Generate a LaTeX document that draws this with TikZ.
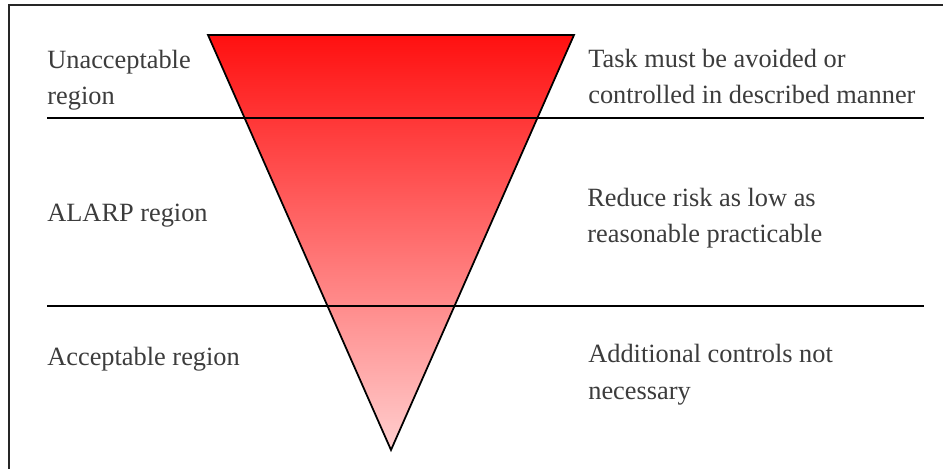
\documentclass[tikz,border=0pt]{standalone}
\usepackage{fontspec}
\setmainfont{Liberation Serif}
\usepackage{tikz}

\definecolor{riskred}{RGB}{255,16,16}
\definecolor{riskpink}{RGB}{255,206,206}
\definecolor{labelgray}{RGB}{60,60,60}

\begin{document}
\begin{tikzpicture}[x=0.02cm,y=-0.02cm,
  label/.style={draw=none,inner sep=0pt,anchor=base west,align=left,
    text=labelgray,font=\fontsize{15}{20.5}\selectfont},
  rule/.style={line width=1pt}]
\useasboundingbox (0,0) rectangle (943,469);
\fill[white] (0,0) rectangle (943,469);
% frame (runs off the right and bottom edges)
\draw[line width=0.9pt,black!85] (9,469) -- (9,5) -- (943,5);
% the triangle
\coordinate (tl) at (208,35);
\coordinate (tr) at (574,35);
\coordinate (apex) at (391,450);
\shade[top color=riskred,bottom color=riskpink] (tl) -- (tr) -- (apex) -- cycle;
\draw[rule,line join=miter] (tl) -- (tr) -- (apex) -- cycle;
% region borders
\coordinate (a1) at (47,118);
\coordinate (b1) at (924,118);
\coordinate (a2) at (47,306);
\coordinate (b2) at (924,306);
\draw[rule] (a1) -- (b1);
\draw[rule] (a2) -- (b2);
% labels (two-line nodes sit on their last baseline)
\node[label] (unacc) at (47,105) {Unacceptable\\region};
\node[label] (alarp) at (47,222) {ALARP region};
\node[label] (acc) at (47,366) {Acceptable region};
\node[label] (avoid) at (588,104) {Task must be avoided or\\controlled in described manner};
\node[label] (reduce) at (587,243) {Reduce risk as low as\\reasonable practicable};
\node[label] (nocontrol) at (588,399) {Additional controls not\\necessary};
\end{tikzpicture}
\end{document}
